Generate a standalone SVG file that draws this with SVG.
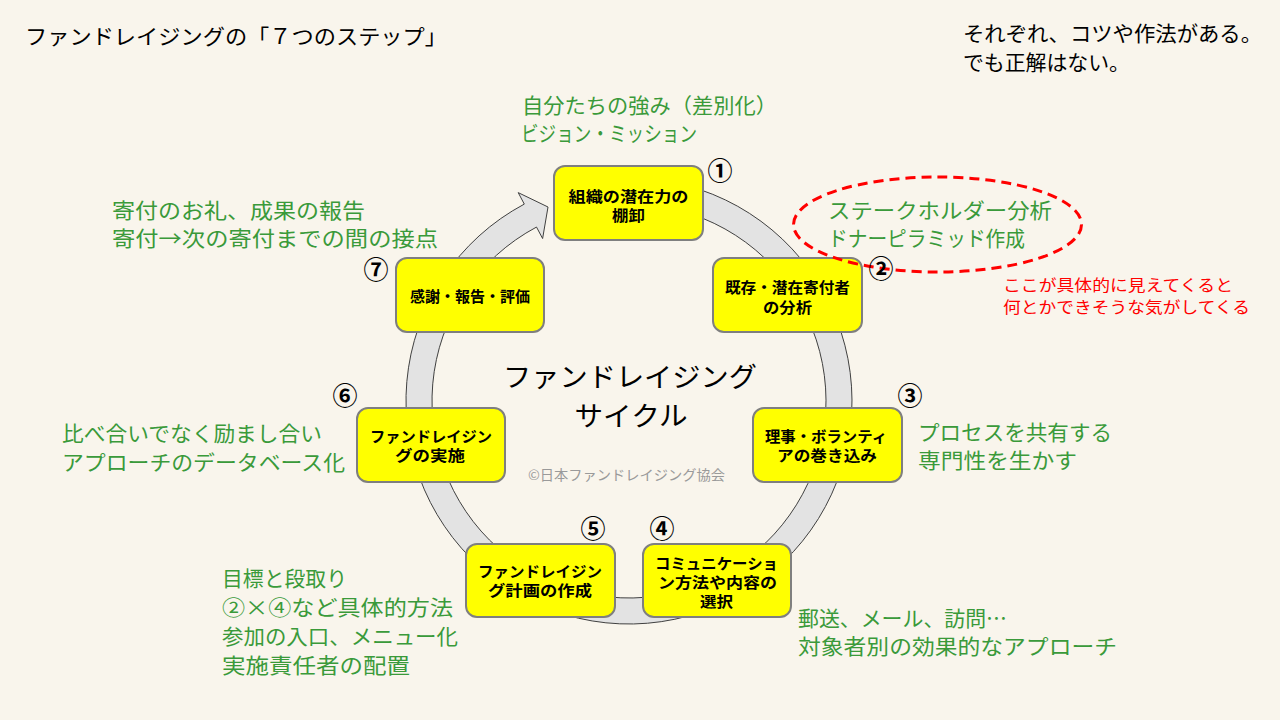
<svg xmlns="http://www.w3.org/2000/svg" width="1280" height="720" viewBox="0 0 1280 720">
<style>
text{font-family:"Noto Sans CJK JP","Noto Sans",sans-serif}
.node rect{fill:#ffff00;stroke:#7f7f7f;stroke-width:2}
.node text{font-size:15px;font-weight:bold;fill:#000;text-anchor:middle}
.g{font-size:21px;fill:#3a9a3a}
.r{font-size:16px;fill:#ff0000}
.k{font-size:21px;fill:#000}
.num{font-size:25px;font-weight:bold;fill:#000;text-anchor:middle}
</style>
<rect x="0" y="0" width="1280" height="720" fill="#f9f5ec"/>
<g id="connectors">
<path d="M 590.28 181.39 A 223 223 0 1 1 524.31 204.10 L 518.21 192.62 L 548 207 L 542.62 238.54 L 536.51 227.06 A 197 197 0 1 0 594.79 206.99 Z" fill="#e3e3e3" stroke="#404040" stroke-width="1"/>
</g>
<g id="node1" class="node"><rect x="554" y="166" width="149" height="74" rx="11"/><text x="628.5" y="202" textLength="120" lengthAdjust="spacingAndGlyphs">組織の潜在力の</text><text x="628.5" y="221" textLength="33" lengthAdjust="spacingAndGlyphs">棚卸</text></g>
<g id="node2" class="node"><rect x="713" y="258" width="149" height="74" rx="11"/><text x="787.5" y="293" textLength="125" lengthAdjust="spacingAndGlyphs">既存・潜在寄付者</text><text x="787.5" y="313" textLength="49" lengthAdjust="spacingAndGlyphs">の分析</text></g>
<g id="node3" class="node"><rect x="753" y="408" width="149" height="74" rx="11"/><text x="826" y="442" textLength="122" lengthAdjust="spacingAndGlyphs">理事・ボランティ</text><text x="827" y="461" textLength="100" lengthAdjust="spacingAndGlyphs">アの巻き込み</text></g>
<g id="node4" class="node"><rect x="643" y="544" width="148" height="73" rx="11"/><text x="716.5" y="569" textLength="123" lengthAdjust="spacingAndGlyphs">コミュニケーショ</text><text x="717.5" y="588" textLength="119" lengthAdjust="spacingAndGlyphs">ン方法や内容の</text><text x="716.5" y="607" textLength="33" lengthAdjust="spacingAndGlyphs">選択</text></g>
<g id="node5" class="node"><rect x="466" y="544" width="149" height="73" rx="11"/><text x="540" y="577" textLength="124" lengthAdjust="spacingAndGlyphs">ファンドレイジン</text><text x="540" y="596" textLength="104" lengthAdjust="spacingAndGlyphs">グ計画の作成</text></g>
<g id="node6" class="node"><rect x="357" y="408" width="148" height="74" rx="11"/><text x="431" y="442" textLength="122" lengthAdjust="spacingAndGlyphs">ファンドレイジン</text><text x="430" y="461" textLength="70" lengthAdjust="spacingAndGlyphs">グの実施</text></g>
<g id="node7" class="node"><rect x="396" y="258" width="148" height="74" rx="11"/><text x="470" y="302" textLength="120" lengthAdjust="spacingAndGlyphs">感謝・報告・評価</text></g>
<g id="highlight">
<ellipse cx="937.5" cy="224.5" rx="144" ry="47.5" fill="none" stroke="#ff0000" stroke-width="3" stroke-dasharray="10 6"/>
</g>
<g id="numbers">
<text class="num" x="720" y="180">①</text>
<text class="num" x="881" y="278">②</text>
<text class="num" x="910" y="405">③</text>
<text class="num" x="662" y="538">④</text>
<text class="num" x="593" y="538">⑤</text>
<text class="num" x="345" y="405">⑥</text>
<text class="num" x="376" y="279">⑦</text>
</g>
<g id="labels">
<text class="k" x="25" y="44" textLength="422" lengthAdjust="spacingAndGlyphs">ファンドレイジングの「７つのステップ」</text>
<text class="k" x="963" y="41" textLength="299" lengthAdjust="spacingAndGlyphs">それぞれ、コツや作法がある。</text>
<text class="k" x="963" y="70" textLength="167" lengthAdjust="spacingAndGlyphs">でも正解はない。</text>
<text x="630" y="387" font-size="27" text-anchor="middle" textLength="254" lengthAdjust="spacingAndGlyphs" fill="#000">ファンドレイジング</text>
<text x="631" y="426" font-size="27" text-anchor="middle" textLength="113" lengthAdjust="spacingAndGlyphs" fill="#000">サイクル</text>
<text x="528" y="480" font-size="14" textLength="197" lengthAdjust="spacingAndGlyphs" fill="#9a9a9a">©日本ファンドレイジング協会</text>
<text class="g" x="522" y="113" textLength="255" lengthAdjust="spacingAndGlyphs">自分たちの強み（差別化）</text>
<text class="g" x="521" y="141" textLength="176" lengthAdjust="spacingAndGlyphs">ビジョン・ミッション</text>
<text class="g" x="112" y="218" textLength="253" lengthAdjust="spacingAndGlyphs">寄付のお礼、成果の報告</text>
<text class="g" x="112" y="246" textLength="326" lengthAdjust="spacingAndGlyphs">寄付→次の寄付までの間の接点</text>
<text class="g" x="828" y="218" textLength="224" lengthAdjust="spacingAndGlyphs">ステークホルダー分析</text>
<text class="g" x="828" y="246" textLength="197" lengthAdjust="spacingAndGlyphs">ドナーピラミッド作成</text>
<text class="g" x="918" y="440" textLength="194" lengthAdjust="spacingAndGlyphs">プロセスを共有する</text>
<text class="g" x="918" y="468" textLength="159" lengthAdjust="spacingAndGlyphs">専門性を生かす</text>
<text class="g" x="62" y="441" textLength="260" lengthAdjust="spacingAndGlyphs">比べ合いでなく励まし合い</text>
<text class="g" x="62" y="470" textLength="283" lengthAdjust="spacingAndGlyphs">アプローチのデータベース化</text>
<text class="g" x="222" y="586" textLength="125" lengthAdjust="spacingAndGlyphs">目標と段取り</text>
<text class="g" x="222" y="615" textLength="231" lengthAdjust="spacingAndGlyphs">②×④など具体的方法</text>
<text class="g" x="222" y="644" textLength="236" lengthAdjust="spacingAndGlyphs">参加の入口、メニュー化</text>
<text class="g" x="222" y="673" textLength="188" lengthAdjust="spacingAndGlyphs">実施責任者の配置</text>
<text class="g" x="798" y="626" textLength="209" lengthAdjust="spacingAndGlyphs">郵送、メール、訪問…</text>
<text class="g" x="798" y="654" textLength="319" lengthAdjust="spacingAndGlyphs">対象者別の効果的なアプローチ</text>
<text class="r" x="1003" y="291" textLength="230" lengthAdjust="spacingAndGlyphs">ここが具体的に見えてくると</text>
<text class="r" x="1003" y="313" textLength="247" lengthAdjust="spacingAndGlyphs">何とかできそうな気がしてくる</text>
</g>
</svg>
